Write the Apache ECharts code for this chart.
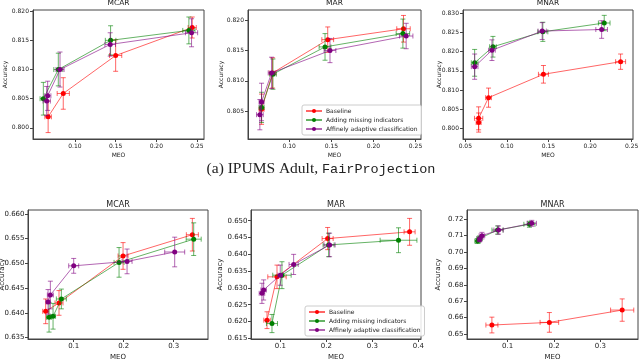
<!DOCTYPE html>
<html>
<head>
<meta charset="utf-8">
<script src="https://cdn.jsdelivr.net/npm/echarts@6.0.0/dist/echarts.min.js"></script>
<style>
  html, body { margin: 0; padding: 0; background: #fff; }
  #main { width: 640px; height: 359px; }
</style>
</head>
<body>
<div id="main"></div>
<script>
// series names and colours
var seriesNames = ['Baseline', 'Adding missing indicators', 'Affinely adaptive classification'];
var seriesColors = ['#ff0000', '#008000', '#800080'];

// each point: [MEO, accuracy, MEO error, accuracy error]
// (a) IPUMS Adult, FairProjection
var adultMcarBase = [[0.067, 0.8019, 0.004, 0.0027], [0.0856, 0.8059, 0.0075, 0.0027], [0.150, 0.8124, 0.0075, 0.0027], [0.2441, 0.8172, 0.005, 0.0018]];
var adultMcarInd = [[0.0611, 0.8050, 0.004, 0.0028], [0.0795, 0.8100, 0.0055, 0.0028], [0.1438, 0.8150, 0.0065, 0.0025], [0.240, 0.8167, 0.0075, 0.0023]];
var adultMcarAff = [[0.0652, 0.8046, 0.0045, 0.0025], [0.0664, 0.8055, 0.004, 0.0025], [0.0816, 0.8100, 0.005, 0.0030], [0.1433, 0.8143, 0.0065, 0.0020], [0.2433, 0.8163, 0.0075, 0.0024]];

var adultMarBase = [[0.0671, 0.8053, 0.003, 0.0025], [0.0802, 0.8113, 0.004, 0.0025], [0.1457, 0.8168, 0.007, 0.0021], [0.2357, 0.8186, 0.008, 0.0022]];
var adultMarInd = [[0.0671, 0.8056, 0.003, 0.0025], [0.0806, 0.8111, 0.004, 0.0025], [0.1425, 0.8156, 0.007, 0.0022], [0.2350, 0.8178, 0.008, 0.0024]];
var adultMarAff = [[0.0651, 0.8044, 0.004, 0.0025], [0.0671, 0.8065, 0.003, 0.0031], [0.0790, 0.8113, 0.004, 0.0026], [0.1484, 0.8150, 0.007, 0.0020], [0.2389, 0.8174, 0.008, 0.0021]];

var adultMnarBase = [[0.0660, 0.8015, 0.003, 0.0025], [0.0660, 0.8026, 0.005, 0.0030], [0.0779, 0.8080, 0.0035, 0.0025], [0.1439, 0.8141, 0.006, 0.0023], [0.2367, 0.8174, 0.006, 0.0020]];
var adultMnarInd = [[0.0612, 0.8171, 0.004, 0.0035], [0.0832, 0.8213, 0.004, 0.0027], [0.1432, 0.8252, 0.006, 0.0025], [0.2170, 0.8275, 0.007, 0.0020]];
var adultMnarAff = [[0.0612, 0.8161, 0.004, 0.0033], [0.0820, 0.8204, 0.004, 0.0027], [0.1424, 0.8254, 0.005, 0.0022], [0.2139, 0.8258, 0.007, 0.0023]];

// second dataset (bottom row)
var b_McarBase = [[0.044, 0.6403, 0.006, 0.0025], [0.0706, 0.6420, 0.008, 0.0025], [0.1987, 0.6515, 0.010, 0.0027], [0.3373, 0.6558, 0.012, 0.0033]];
var b_McarInd = [[0.0507, 0.6391, 0.005, 0.0030], [0.0587, 0.6393, 0.005, 0.0026], [0.0753, 0.6428, 0.010, 0.0020], [0.1907, 0.6502, 0.010, 0.0030], [0.3400, 0.6549, 0.015, 0.0033]];
var b_McarAff = [[0.0487, 0.6422, 0.004, 0.0025], [0.0533, 0.6436, 0.006, 0.0028], [0.1000, 0.6495, 0.010, 0.0015], [0.2067, 0.6504, 0.010, 0.0025], [0.3020, 0.6523, 0.020, 0.0030]];

var b_MarBase = [[0.0711, 0.6204, 0.007, 0.0025], [0.0928, 0.6333, 0.020, 0.0035], [0.2029, 0.6447, 0.012, 0.0033], [0.3811, 0.6467, 0.012, 0.0040]];
var b_MarInd = [[0.0819, 0.6194, 0.012, 0.0027], [0.1036, 0.6338, 0.020, 0.0040], [0.2050, 0.6428, 0.012, 0.0035], [0.3570, 0.6442, 0.040, 0.0037]];
var b_MarAff = [[0.0601, 0.6284, 0.006, 0.0030], [0.0638, 0.6294, 0.006, 0.0030], [0.0999, 0.6338, 0.005, 0.0030], [0.1290, 0.6370, 0.010, 0.0030], [0.2072, 0.6428, 0.012, 0.0035]];

var b_MnarBase = [[0.0660, 0.6555, 0.013, 0.0048], [0.1899, 0.6571, 0.020, 0.0060], [0.3469, 0.6646, 0.025, 0.0068]];
var b_MnarInd = [[0.0351, 0.7066, 0.006, 0.0015], [0.0394, 0.7082, 0.006, 0.0015], [0.0781, 0.7133, 0.012, 0.0025], [0.1469, 0.7168, 0.012, 0.0018]];
var b_MnarAff = [[0.0394, 0.7076, 0.005, 0.0015], [0.0445, 0.7099, 0.006, 0.0020], [0.0803, 0.7133, 0.010, 0.0025], [0.1520, 0.7174, 0.010, 0.0018]];

// tick labels
var xTicksAdult = [0.10, 0.15, 0.20, 0.25];
var xTicksAdultMnar = [0.05, 0.10, 0.15, 0.20, 0.25];
var yTicksAdultMcar = [0.800, 0.805, 0.810, 0.815, 0.820];
var yTicksAdultMar = [0.805, 0.810, 0.815, 0.820];
var yTicksAdultMnar = [0.800, 0.805, 0.810, 0.815, 0.820, 0.825, 0.830];
var xTicksB = [0.1, 0.2, 0.3];
var xTicksBMar = [0.1, 0.2, 0.3, 0.4];
var yTicksBMcar = [0.635, 0.640, 0.645, 0.650, 0.655, 0.660];
var yTicksBMar = [0.615, 0.620, 0.625, 0.630, 0.635, 0.640, 0.645, 0.650];
var yTicksBMnar = [0.65, 0.66, 0.67, 0.68, 0.69, 0.70, 0.71, 0.72];

var panelTitles = ['MCAR', 'MAR', 'MNAR', 'MCAR', 'MAR', 'MNAR'];
var captionA = '(a) IPUMS Adult, ';
var captionACode = 'FairProjection';

// yGap: null means the y name is drawn as a separate text at the page edge
var panels = [
  {box: [33, 10, 171, 129], xr: [0.0484, 0.2586], yr: [0.7981, 0.8202], xt: xTicksAdult, yt: yTicksAdultMcar, xd: 2, yd: 3, top: true, yGap: 25,
    data: [adultMcarBase, adultMcarInd, adultMcarAff]},
  {box: [248, 10, 173, 129], xr: [0.051, 0.2565], yr: [0.80038, 0.8217], xt: xTicksAdult, yt: yTicksAdultMar, xd: 2, yd: 3, top: true, yGap: 24,
    data: [adultMarBase, adultMarInd, adultMarAff]},
  {box: [463, 10, 170, 129], xr: [0.0472, 0.2516], yr: [0.7972, 0.8309], xt: xTicksAdultMnar, yt: yTicksAdultMnar, xd: 2, yd: 3, top: true, yGap: 21,
    data: [adultMnarBase, adultMnarInd, adultMnarAff]},
  {box: [28, 210, 180, 129], xr: [0.0086, 0.3686], yr: [0.6347, 0.6608], xt: xTicksB, yt: yTicksBMcar, xd: 1, yd: 3, top: false, yGap: null,
    data: [b_McarBase, b_McarInd, b_McarAff]},
  {box: [251, 210, 170, 129], xr: [0.0363, 0.4059], yr: [0.6148, 0.6532], xt: xTicksBMar, yt: yTicksBMar, xd: 1, yd: 3, top: false, yGap: 27,
    data: [b_MarBase, b_MarInd, b_MarAff]},
  {box: [467, 210, 171, 129], xr: [0.0123, 0.381], yr: [0.647, 0.7255], xt: xTicksB, yt: yTicksBMnar, xd: 1, yd: 2, top: false, yGap: 25,
    data: [b_MnarBase, b_MnarInd, b_MnarAff]}
];

var FONT = 'DejaVu Sans';

function hexToRgba(hex, a) {
  var n = parseInt(hex.slice(1), 16);
  return 'rgba(' + ((n >> 16) & 255) + ',' + ((n >> 8) & 255) + ',' + (n & 255) + ',' + a + ')';
}

function makeErrRender(color) {
  var stroke = hexToRgba(color, 0.6);
  return function (params, api) {
    var x = api.value(0), y = api.value(1), xe = api.value(2), ye = api.value(3);
    var c = api.coord([x, y]);
    var l = api.coord([x - xe, y]);
    var r = api.coord([x + xe, y]);
    var t = api.coord([x, y + ye]);
    var b = api.coord([x, y - ye]);
    var cap = 2.5;
    var st = {stroke: stroke, lineWidth: 1, fill: null};
    function seg(x1, y1, x2, y2) {
      return {type: 'line', shape: {x1: x1, y1: y1, x2: x2, y2: y2}, style: st};
    }
    return {
      type: 'group',
      children: [
        seg(l[0], c[1], r[0], c[1]),
        seg(l[0], c[1] - cap, l[0], c[1] + cap),
        seg(r[0], c[1] - cap, r[0], c[1] + cap),
        seg(c[0], t[1], c[0], b[1]),
        seg(c[0] - cap, t[1], c[0] + cap, t[1]),
        seg(c[0] - cap, b[1], c[0] + cap, b[1])
      ]
    };
  };
}

var grids = [], xAxes = [], yAxes = [], series = [], graphics = [];

panels.forEach(function (p, i) {
  var tickSize = p.top ? 6 : 7;
  var nameSize = p.top ? 6 : 7;
  grids.push({
    left: p.box[0], top: p.box[1], width: p.box[2], height: p.box[3],
    show: true, borderColor: '#444', borderWidth: 1, backgroundColor: 'transparent',
    containLabel: false, outerBoundsMode: 'none'
  });
  xAxes.push({
    type: 'value', gridIndex: i, min: p.xr[0], max: p.xr[1],
    name: 'MEO', nameLocation: 'middle', nameGap: p.top ? 13 : 14.5, nameMoveOverlap: false,
    nameTextStyle: {fontFamily: FONT, fontSize: nameSize, color: '#222'},
    axisLine: {show: true, onZero: false, lineStyle: {color: '#444', width: 1}},
    axisTick: {show: true, length: 3, customValues: p.xt, lineStyle: {color: '#444'}},
    axisLabel: {
      customValues: p.xt, margin: 4, fontFamily: FONT, fontSize: tickSize, color: '#222',
      formatter: (function (d) { return function (v) { return Number(v).toFixed(d); }; })(p.xd)
    },
    splitLine: {show: false}
  });
  yAxes.push({
    type: 'value', gridIndex: i, min: p.yr[0], max: p.yr[1],
    name: p.yGap === null ? '' : 'Accuracy', nameLocation: 'middle', nameGap: p.yGap || 0, nameMoveOverlap: false,
    nameTextStyle: {fontFamily: FONT, fontSize: nameSize, color: '#222'},
    axisLine: {show: true, onZero: false, lineStyle: {color: '#444', width: 1}},
    axisTick: {show: true, length: 3, customValues: p.yt, lineStyle: {color: '#444'}},
    axisLabel: {
      customValues: p.yt, margin: p.top ? 4 : 3.5, fontFamily: FONT, fontSize: tickSize, color: '#222',
      formatter: (function (d) { return function (v) { return Number(v).toFixed(d); }; })(p.yd)
    },
    splitLine: {show: false}
  });
  if (p.yGap === null) {
    graphics.push({
      type: 'text', x: 2.5, y: p.box[1] + p.box[3] / 2, rotation: Math.PI / 2,
      style: {text: 'Accuracy', fontFamily: FONT, fontSize: nameSize, fill: '#222', align: 'center', verticalAlign: 'middle'}
    });
  }

  p.data.forEach(function (pts, k) {
    var col = seriesColors[k];
    // error bars drawn under the line and markers
    series.push({
      type: 'custom', name: seriesNames[k] + ' error', xAxisIndex: i, yAxisIndex: i,
      renderItem: makeErrRender(col), clip: true,
      encode: {x: 0, y: 1},
      data: pts, z: 2 + k * 2, silent: true
    });
    series.push({
      type: 'line', name: seriesNames[k], xAxisIndex: i, yAxisIndex: i,
      data: pts.map(function (d) { return [d[0], d[1]]; }),
      symbol: 'circle', symbolSize: 5, showSymbol: true,
      lineStyle: {color: hexToRgba(col, 0.6), width: 1},
      itemStyle: {color: col},
      z: 3 + k * 2, clip: true
    });
  });

  graphics.push({
    type: 'text',
    x: p.box[0] + p.box[2] / 2,
    y: p.top ? 3 : 205,
    style: {
      text: panelTitles[i], fontFamily: FONT, fontSize: p.top ? 7.5 : 8,
      fill: '#222', align: 'center', verticalAlign: 'middle'
    }
  });
});

graphics.push({
  type: 'text', x: 321, y: 169,
  style: {
    text: '{a|' + captionA + '}{b|' + captionACode + '}',
    align: 'center', verticalAlign: 'middle',
    rich: {
      a: {fontFamily: 'Liberation Serif', fontSize: 15.5, fill: '#222', color: '#222'},
      b: {fontFamily: 'Liberation Mono', fontSize: 13.5, fill: '#222', color: '#222'}
    }
  }
});

function legendAt(left, top) {
  return {
    orient: 'vertical', left: left, top: top,
    data: seriesNames,
    itemWidth: 16, itemHeight: 5, itemGap: 3,
    padding: [3, 4, 3, 3],
    borderColor: '#ccc', borderWidth: 1, borderRadius: 2,
    backgroundColor: 'rgba(255,255,255,0.85)',
    textStyle: {fontFamily: FONT, fontSize: 6, color: '#222', padding: [0, 0, 0, -1]},
    selectedMode: false
  };
}

var chart = echarts.init(document.getElementById('main'), null, {renderer: 'canvas'});
chart.setOption({
  animation: false,
  backgroundColor: '#fff',
  grid: grids,
  xAxis: xAxes,
  yAxis: yAxes,
  legend: [legendAt(302, 105), legendAt(305, 306)],
  graphic: graphics,
  series: series
});
</script>
</body>
</html>
